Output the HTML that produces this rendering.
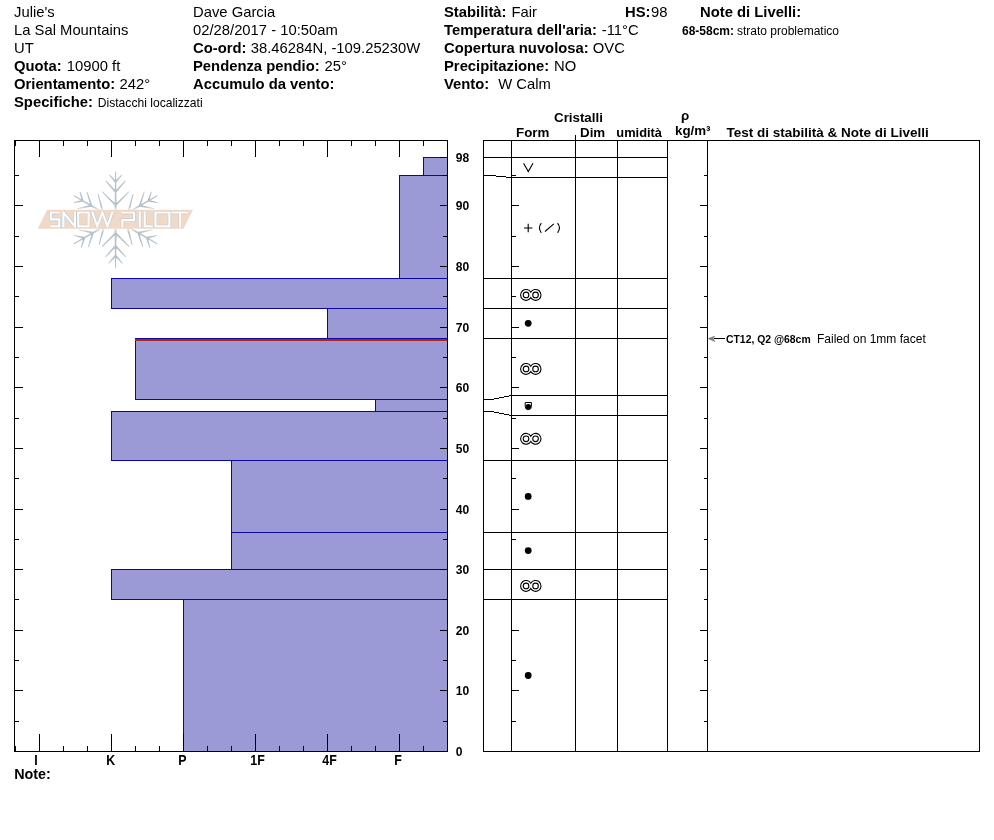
<!DOCTYPE html>
<html><head><meta charset="utf-8"><title>SnowPilot Pit</title>
<style>
html,body{margin:0;padding:0;background:#fff;}
body{width:994px;height:840px;overflow:hidden;font-family:"Liberation Sans",sans-serif;}
svg{display:block}
svg text{font-family:"Liberation Sans",sans-serif;fill:#000}
#root{will-change:transform}
.b{font-weight:bold}
.h{font-size:14.8px}
.s{font-size:12px}
.ln{stroke:#000;stroke-width:1;shape-rendering:crispEdges;fill:none}
</style></head><body>
<svg id="root" width="994" height="840" viewBox="0 0 994 840">
<rect x="0" y="0" width="994" height="840" fill="#fff"/>
<g id="header">
<text x="14" y="16.8" class="h">Julie&#39;s</text>
<text x="14" y="34.8" class="h">La Sal Mountains</text>
<text x="14" y="52.8" class="h">UT</text>
<text x="14" y="70.8" class="h b">Quota:</text>
<text x="66.8" y="70.8" class="h">10900 ft</text>
<text x="14" y="88.8" class="h b">Orientamento:</text>
<text x="119.6" y="88.8" class="h">242°</text>
<text x="14" y="106.8" class="h b">Specifiche:</text>
<text x="97.8" y="106.8" class="s" style="font-size:12.1px">Distacchi localizzati</text>
<text x="193" y="16.8" class="h">Dave Garcia</text>
<text x="193" y="34.8" class="h">02/28/2017 - 10:50am</text>
<text x="193" y="52.8" class="h b">Co-ord:</text>
<text x="250.8" y="52.8" class="h">38.46284N, -109.25230W</text>
<text x="193" y="70.8" class="h b">Pendenza pendio:</text>
<text x="324.6" y="70.8" class="h">25°</text>
<text x="193" y="88.8" class="h b">Accumulo da vento:</text>
<text x="444" y="16.8" class="h b">Stabilità:</text>
<text x="511.5" y="16.8" class="h">Fair</text>
<text x="625" y="16.8" class="h b">HS:</text>
<text x="651" y="16.8" class="h">98</text>
<text x="444" y="34.8" class="h b">Temperatura dell&#39;aria:</text>
<text x="601.8" y="34.8" class="h">-11°C</text>
<text x="444" y="52.8" class="h b">Copertura nuvolosa:</text>
<text x="592.8" y="52.8" class="h">OVC</text>
<text x="444" y="70.8" class="h b">Precipitazione:</text>
<text x="554" y="70.8" class="h">NO</text>
<text x="444" y="88.8" class="h b">Vento:</text>
<text x="498.2" y="88.8" class="h">W Calm</text>
<text x="700" y="16.8" class="h b">Note di Livelli:</text>
<text x="682" y="34.5" class="s b">68-58cm:</text>
<text x="737" y="34.5" class="s">strato problematico</text>
</g>
<g id="profile">
<g id="logo">
<path d="M116.75,219.70L116.10,171.70L115.60,171.20L115.10,171.70L114.45,219.70ZM116.34,182.47L122.09,175.26L122.06,174.63L121.42,174.66L114.86,181.13ZM116.34,181.13L109.78,174.66L109.14,174.63L109.11,175.26L114.86,182.47ZM116.34,192.47L125.50,181.47L125.47,180.84L124.83,180.87L114.86,191.13ZM116.34,191.13L106.37,180.87L105.73,180.84L105.70,181.47L114.86,192.47ZM116.31,205.81L129.21,192.12L129.21,191.49L128.58,191.49L114.89,204.39ZM116.31,204.39L102.62,191.49L101.99,191.49L101.99,192.12L114.89,205.81ZM116.17,218.70L74.28,195.27L73.60,195.45L73.78,196.13L115.02,220.70ZM83.73,200.44L80.36,191.86L79.80,191.57L79.51,192.14L81.83,201.06ZM82.57,199.77L73.69,202.22L73.34,202.76L73.87,203.10L82.99,201.73ZM92.39,205.44L87.45,192.01L86.88,191.72L86.59,192.29L90.49,206.06ZM91.23,204.77L77.36,208.28L77.01,208.82L77.54,209.16L91.65,206.73ZM103.92,212.14L98.52,194.12L97.97,193.81L97.66,194.36L101.99,212.66ZM102.70,211.43L84.68,216.83L84.36,217.38L84.91,217.70L103.21,213.37ZM115.02,218.70L73.78,243.27L73.60,243.95L74.28,244.13L116.17,220.70ZM84.63,236.72L74.64,235.16L74.10,235.51L74.45,236.04L84.22,238.68ZM83.47,237.39L80.87,247.17L81.16,247.73L81.73,247.44L85.37,238.01ZM93.20,231.77L78.61,229.23L78.08,229.58L78.43,230.11L92.79,233.73ZM92.05,232.44L88.00,246.69L88.28,247.25L88.85,246.96L93.95,233.06ZM104.25,225.43L85.95,221.10L85.40,221.42L85.72,221.97L103.74,227.37ZM103.03,226.14L98.69,244.44L99.01,244.99L99.56,244.68L104.96,226.66ZM114.45,219.70L115.10,267.70L115.60,268.20L116.10,267.70L116.75,219.70ZM114.86,255.03L108.51,262.90L108.54,263.54L109.18,263.51L116.34,256.37ZM114.86,256.37L122.02,263.51L122.66,263.54L122.69,262.90L116.34,255.03ZM114.86,245.13L105.36,256.50L105.40,257.13L106.03,257.10L116.34,246.47ZM114.86,246.47L125.17,257.10L125.80,257.13L125.84,256.50L116.34,245.13ZM114.89,232.39L101.99,246.08L101.99,246.71L102.62,246.71L116.31,233.81ZM114.89,233.81L128.58,246.71L129.21,246.71L129.21,246.08L116.31,232.39ZM115.02,220.70L156.92,244.13L157.60,243.95L157.42,243.27L116.17,218.70ZM145.83,238.01L149.47,247.44L150.04,247.73L150.33,247.17L147.73,237.39ZM146.98,238.68L156.75,236.04L157.10,235.51L156.56,235.16L146.57,236.72ZM137.25,233.06L142.35,246.96L142.92,247.25L143.20,246.69L139.15,232.44ZM138.41,233.73L152.77,230.11L153.12,229.58L152.59,229.23L138.00,231.77ZM126.24,226.66L131.64,244.68L132.19,244.99L132.51,244.44L128.17,226.14ZM127.46,227.37L145.48,221.97L145.80,221.42L145.25,221.10L126.95,225.43ZM116.17,220.70L157.42,196.13L157.60,195.45L156.92,195.27L115.02,218.70ZM148.21,201.73L157.33,203.10L157.86,202.76L157.51,202.22L148.63,199.77ZM149.37,201.06L151.69,192.14L151.40,191.57L150.84,191.86L147.47,200.44ZM139.55,206.73L153.66,209.16L154.19,208.82L153.84,208.28L139.97,204.77ZM140.71,206.06L144.61,192.29L144.32,191.72L143.75,192.01L138.81,205.44ZM127.99,213.37L146.29,217.70L146.84,217.38L146.52,216.83L128.50,211.43ZM129.21,212.66L133.54,194.36L133.23,193.81L132.68,194.12L127.28,212.14Z" fill="#b5c2cb" stroke="none"/>
<filter id="bl" x="-10%" y="-50%" width="120%" height="200%"><feGaussianBlur stdDeviation="1.1"/></filter>
<polygon points="46,208.2 195,208.2 184.4,230.3 35.5,230.3" fill="#fff" opacity="0.75" filter="url(#bl)"/>
<polygon points="47.1,209.8 193,209.8 183.4,228.7 37.7,228.7" fill="#f0d9c6"/>
<clipPath id="lc"><rect x="40" y="211.2" width="155" height="16.5"/></clipPath>
<g clip-path="url(#lc)"><path d="M59.800000000000004,212.5H50.9V219.45H59.2V226.4H50.3M63.4,227.5V212.5L74.9,226.4V211.4M78.3,212.5H88.6V226.4H78.3ZM92.1,211.4L97.225,226.4L102.35,212.5L107.475,226.4L112.6,211.4M121.30000000000001,212.5H134V220.04999999999998H122.4V227.5M139.75,211.4V227.5M144.7,211.4V226.4H152.8M155.5,212.5H169.4V226.4H155.5ZM171.3,212.5H188.2M180.2,212.5V227.5" stroke="#c2cbd3" stroke-width="3.4" fill="none" stroke-linejoin="miter" stroke-miterlimit="3"/>
<path d="M59.800000000000004,212.5H50.9V219.45H59.2V226.4H50.3M63.4,227.5V212.5L74.9,226.4V211.4M78.3,212.5H88.6V226.4H78.3ZM92.1,211.4L97.225,226.4L102.35,212.5L107.475,226.4L112.6,211.4M121.30000000000001,212.5H134V220.04999999999998H122.4V227.5M139.75,211.4V227.5M144.7,211.4V226.4H152.8M155.5,212.5H169.4V226.4H155.5ZM171.3,212.5H188.2M180.2,212.5V227.5" stroke="#fdfdfe" stroke-width="2.2" fill="none" stroke-linejoin="miter" stroke-miterlimit="3"/></g>
</g>
<rect x="423.5" y="157.5" width="24" height="18" fill="#9b99d6" stroke="#0a06a6" stroke-width="1" shape-rendering="crispEdges"/>
<rect x="399.5" y="175.5" width="48" height="103" fill="#9b99d6" stroke="#0a06a6" stroke-width="1" shape-rendering="crispEdges"/>
<rect x="111.5" y="278.5" width="336" height="30" fill="#9b99d6" stroke="#0a06a6" stroke-width="1" shape-rendering="crispEdges"/>
<rect x="327.5" y="308.5" width="120" height="30" fill="#9b99d6" stroke="#0a06a6" stroke-width="1" shape-rendering="crispEdges"/>
<rect x="135.5" y="338.5" width="312" height="61" fill="#9b99d6" stroke="#0a06a6" stroke-width="1" shape-rendering="crispEdges"/>
<rect x="375.5" y="399.5" width="72" height="12" fill="#9b99d6" stroke="#0a06a6" stroke-width="1" shape-rendering="crispEdges"/>
<rect x="111.5" y="411.5" width="336" height="49" fill="#9b99d6" stroke="#0a06a6" stroke-width="1" shape-rendering="crispEdges"/>
<rect x="231.5" y="460.5" width="216" height="72" fill="#9b99d6" stroke="#0a06a6" stroke-width="1" shape-rendering="crispEdges"/>
<rect x="231.5" y="532.5" width="216" height="37" fill="#9b99d6" stroke="#0a06a6" stroke-width="1" shape-rendering="crispEdges"/>
<rect x="111.5" y="569.5" width="336" height="30" fill="#9b99d6" stroke="#0a06a6" stroke-width="1" shape-rendering="crispEdges"/>
<rect x="183.5" y="599.5" width="264" height="152" fill="#9b99d6" stroke="#0a06a6" stroke-width="1" shape-rendering="crispEdges"/>
<rect x="135" y="339" width="312" height="2" fill="#b32418" shape-rendering="crispEdges"/>
<line class="ln" x1="14" y1="140.5" x2="448" y2="140.5"/>
<line class="ln" x1="14" y1="751.5" x2="448" y2="751.5"/>
<line class="ln" x1="14.5" y1="140" x2="14.5" y2="752"/>
<line class="ln" x1="447.5" y1="140" x2="447.5" y2="752"/>
<line class="ln" x1="15.5" y1="141" x2="15.5" y2="146"/>
<line class="ln" x1="15.5" y1="746" x2="15.5" y2="751"/>
<line class="ln" x1="39.5" y1="141" x2="39.5" y2="157"/>
<line class="ln" x1="39.5" y1="734" x2="39.5" y2="751"/>
<line class="ln" x1="63.5" y1="141" x2="63.5" y2="146"/>
<line class="ln" x1="63.5" y1="746" x2="63.5" y2="751"/>
<line class="ln" x1="87.5" y1="141" x2="87.5" y2="146"/>
<line class="ln" x1="87.5" y1="746" x2="87.5" y2="751"/>
<line class="ln" x1="111.5" y1="141" x2="111.5" y2="157"/>
<line class="ln" x1="111.5" y1="734" x2="111.5" y2="751"/>
<line class="ln" x1="135.5" y1="141" x2="135.5" y2="146"/>
<line class="ln" x1="135.5" y1="746" x2="135.5" y2="751"/>
<line class="ln" x1="159.5" y1="141" x2="159.5" y2="146"/>
<line class="ln" x1="159.5" y1="746" x2="159.5" y2="751"/>
<line class="ln" x1="183.5" y1="141" x2="183.5" y2="157"/>
<line class="ln" x1="183.5" y1="734" x2="183.5" y2="751"/>
<line class="ln" x1="207.5" y1="141" x2="207.5" y2="146"/>
<line class="ln" x1="207.5" y1="746" x2="207.5" y2="751"/>
<line class="ln" x1="231.5" y1="141" x2="231.5" y2="146"/>
<line class="ln" x1="231.5" y1="746" x2="231.5" y2="751"/>
<line class="ln" x1="255.5" y1="141" x2="255.5" y2="157"/>
<line class="ln" x1="255.5" y1="734" x2="255.5" y2="751"/>
<line class="ln" x1="279.5" y1="141" x2="279.5" y2="146"/>
<line class="ln" x1="279.5" y1="746" x2="279.5" y2="751"/>
<line class="ln" x1="303.5" y1="141" x2="303.5" y2="146"/>
<line class="ln" x1="303.5" y1="746" x2="303.5" y2="751"/>
<line class="ln" x1="327.5" y1="141" x2="327.5" y2="157"/>
<line class="ln" x1="327.5" y1="734" x2="327.5" y2="751"/>
<line class="ln" x1="351.5" y1="141" x2="351.5" y2="146"/>
<line class="ln" x1="351.5" y1="746" x2="351.5" y2="751"/>
<line class="ln" x1="375.5" y1="141" x2="375.5" y2="146"/>
<line class="ln" x1="375.5" y1="746" x2="375.5" y2="751"/>
<line class="ln" x1="399.5" y1="141" x2="399.5" y2="157"/>
<line class="ln" x1="399.5" y1="734" x2="399.5" y2="751"/>
<line class="ln" x1="423.5" y1="141" x2="423.5" y2="146"/>
<line class="ln" x1="423.5" y1="746" x2="423.5" y2="751"/>
<line class="ln" x1="447.5" y1="141" x2="447.5" y2="146"/>
<line class="ln" x1="447.5" y1="746" x2="447.5" y2="751"/>
<line class="ln" x1="15" y1="721.5" x2="19" y2="721.5"/>
<line class="ln" x1="443" y1="721.5" x2="447" y2="721.5"/>
<line class="ln" x1="15" y1="690.5" x2="23" y2="690.5"/>
<line class="ln" x1="440" y1="690.5" x2="447" y2="690.5"/>
<line class="ln" x1="15" y1="660.5" x2="19" y2="660.5"/>
<line class="ln" x1="443" y1="660.5" x2="447" y2="660.5"/>
<line class="ln" x1="15" y1="630.5" x2="23" y2="630.5"/>
<line class="ln" x1="440" y1="630.5" x2="447" y2="630.5"/>
<line class="ln" x1="15" y1="599.5" x2="19" y2="599.5"/>
<line class="ln" x1="443" y1="599.5" x2="447" y2="599.5"/>
<line class="ln" x1="15" y1="569.5" x2="23" y2="569.5"/>
<line class="ln" x1="440" y1="569.5" x2="447" y2="569.5"/>
<line class="ln" x1="15" y1="539.5" x2="19" y2="539.5"/>
<line class="ln" x1="443" y1="539.5" x2="447" y2="539.5"/>
<line class="ln" x1="15" y1="509.5" x2="23" y2="509.5"/>
<line class="ln" x1="440" y1="509.5" x2="447" y2="509.5"/>
<line class="ln" x1="15" y1="478.5" x2="19" y2="478.5"/>
<line class="ln" x1="443" y1="478.5" x2="447" y2="478.5"/>
<line class="ln" x1="15" y1="448.5" x2="23" y2="448.5"/>
<line class="ln" x1="440" y1="448.5" x2="447" y2="448.5"/>
<line class="ln" x1="15" y1="418.5" x2="19" y2="418.5"/>
<line class="ln" x1="443" y1="418.5" x2="447" y2="418.5"/>
<line class="ln" x1="15" y1="387.5" x2="23" y2="387.5"/>
<line class="ln" x1="440" y1="387.5" x2="447" y2="387.5"/>
<line class="ln" x1="15" y1="357.5" x2="19" y2="357.5"/>
<line class="ln" x1="443" y1="357.5" x2="447" y2="357.5"/>
<line class="ln" x1="15" y1="327.5" x2="23" y2="327.5"/>
<line class="ln" x1="440" y1="327.5" x2="447" y2="327.5"/>
<line class="ln" x1="15" y1="296.5" x2="19" y2="296.5"/>
<line class="ln" x1="443" y1="296.5" x2="447" y2="296.5"/>
<line class="ln" x1="15" y1="266.5" x2="23" y2="266.5"/>
<line class="ln" x1="440" y1="266.5" x2="447" y2="266.5"/>
<line class="ln" x1="15" y1="236.5" x2="19" y2="236.5"/>
<line class="ln" x1="443" y1="236.5" x2="447" y2="236.5"/>
<line class="ln" x1="15" y1="205.5" x2="23" y2="205.5"/>
<line class="ln" x1="440" y1="205.5" x2="447" y2="205.5"/>
<line class="ln" x1="15" y1="175.5" x2="19" y2="175.5"/>
<line class="ln" x1="443" y1="175.5" x2="447" y2="175.5"/>
<line class="ln" x1="440" y1="157.5" x2="447" y2="157.5"/>
<text x="0" y="0" class="b" style="font-size:13.33px" transform="translate(34.3,765) scale(0.93,1.06)">I</text>
<text x="0" y="0" class="b" style="font-size:13.33px" transform="translate(106.3,765) scale(0.93,1.06)">K</text>
<text x="0" y="0" class="b" style="font-size:13.33px" transform="translate(178.3,765) scale(0.93,1.06)">P</text>
<text x="0" y="0" class="b" style="font-size:13.33px" transform="translate(250.3,765) scale(0.93,1.06)">1F</text>
<text x="0" y="0" class="b" style="font-size:13.33px" transform="translate(322.3,765) scale(0.93,1.06)">4F</text>
<text x="0" y="0" class="b" style="font-size:13.33px" transform="translate(394.3,765) scale(0.93,1.06)">F</text>
<text x="14.2" y="779" class="b" style="font-size:14.35px">Note:</text>
<text x="455.7" y="755.9" class="b" style="font-size:13px" transform="translate(455.7,0) scale(0.93,1) translate(-455.7,0)">0</text>
<text x="455.7" y="694.9" class="b" style="font-size:13px" transform="translate(455.7,0) scale(0.93,1) translate(-455.7,0)">10</text>
<text x="455.7" y="634.9" class="b" style="font-size:13px" transform="translate(455.7,0) scale(0.93,1) translate(-455.7,0)">20</text>
<text x="455.7" y="573.9" class="b" style="font-size:13px" transform="translate(455.7,0) scale(0.93,1) translate(-455.7,0)">30</text>
<text x="455.7" y="513.9" class="b" style="font-size:13px" transform="translate(455.7,0) scale(0.93,1) translate(-455.7,0)">40</text>
<text x="455.7" y="452.9" class="b" style="font-size:13px" transform="translate(455.7,0) scale(0.93,1) translate(-455.7,0)">50</text>
<text x="455.7" y="391.9" class="b" style="font-size:13px" transform="translate(455.7,0) scale(0.93,1) translate(-455.7,0)">60</text>
<text x="455.7" y="331.9" class="b" style="font-size:13px" transform="translate(455.7,0) scale(0.93,1) translate(-455.7,0)">70</text>
<text x="455.7" y="270.9" class="b" style="font-size:13px" transform="translate(455.7,0) scale(0.93,1) translate(-455.7,0)">80</text>
<text x="455.7" y="209.9" class="b" style="font-size:13px" transform="translate(455.7,0) scale(0.93,1) translate(-455.7,0)">90</text>
<text x="455.7" y="161.9" class="b" style="font-size:13px" transform="translate(455.7,0) scale(0.93,1) translate(-455.7,0)">98</text>
</g>
<g id="table">
<text x="554" y="122" class="b" style="font-size:13.33px">Cristalli</text>
<text x="516" y="137" class="b" style="font-size:13.33px">Form</text>
<text x="580" y="137" class="b" style="font-size:13.33px">Dim</text>
<text x="616.3" y="137" class="b" style="font-size:13.33px" transform="translate(616.3,0) scale(0.965,1) translate(-616.3,0)">umidità</text>
<text x="681" y="120" class="b" style="font-size:13.33px">ρ</text>
<text x="675" y="135" class="b" style="font-size:13.33px">kg/m³</text>
<text x="726.5" y="137" class="b" style="font-size:13.5px">Test di stabilità &amp; Note di Livelli</text>
<line class="ln" x1="483" y1="140.5" x2="980" y2="140.5"/>
<line class="ln" x1="483" y1="751.5" x2="980" y2="751.5"/>
<line class="ln" x1="483.5" y1="140" x2="483.5" y2="752"/>
<line class="ln" x1="979.5" y1="140" x2="979.5" y2="752"/>
<line class="ln" x1="511.5" y1="140" x2="511.5" y2="752"/>
<line class="ln" x1="575.5" y1="140" x2="575.5" y2="752"/>
<line class="ln" x1="617.5" y1="140" x2="617.5" y2="752"/>
<line class="ln" x1="667.5" y1="140" x2="667.5" y2="752"/>
<line class="ln" x1="707.5" y1="140" x2="707.5" y2="752"/>
<line class="ln" x1="575.5" y1="135" x2="575.5" y2="140"/>
<line class="ln" x1="511" y1="157.5" x2="668" y2="157.5"/>
<line class="ln" x1="483" y1="157.5" x2="512" y2="157.5"/>
<line class="ln" x1="511" y1="177.5" x2="668" y2="177.5"/>
<line class="ln" x1="511" y1="278.5" x2="668" y2="278.5"/>
<line class="ln" x1="483" y1="278.5" x2="512" y2="278.5"/>
<line class="ln" x1="511" y1="308.5" x2="668" y2="308.5"/>
<line class="ln" x1="483" y1="308.5" x2="512" y2="308.5"/>
<line class="ln" x1="511" y1="338.5" x2="668" y2="338.5"/>
<line class="ln" x1="483" y1="338.5" x2="512" y2="338.5"/>
<line class="ln" x1="511" y1="395.5" x2="668" y2="395.5"/>
<line class="ln" x1="511" y1="415.5" x2="668" y2="415.5"/>
<line class="ln" x1="511" y1="460.5" x2="668" y2="460.5"/>
<line class="ln" x1="483" y1="460.5" x2="512" y2="460.5"/>
<line class="ln" x1="511" y1="532.5" x2="668" y2="532.5"/>
<line class="ln" x1="483" y1="532.5" x2="512" y2="532.5"/>
<line class="ln" x1="511" y1="569.5" x2="668" y2="569.5"/>
<line class="ln" x1="483" y1="569.5" x2="512" y2="569.5"/>
<line class="ln" x1="511" y1="599.5" x2="668" y2="599.5"/>
<line class="ln" x1="483" y1="599.5" x2="512" y2="599.5"/>
<rect x="484" y="175" width="12" height="1" fill="#000" shape-rendering="crispEdges"/>
<rect x="496" y="176" width="10" height="1" fill="#000" shape-rendering="crispEdges"/>
<rect x="506" y="177" width="6" height="1" fill="#000" shape-rendering="crispEdges"/>
<rect x="484" y="399" width="10" height="1" fill="#000" shape-rendering="crispEdges"/>
<rect x="494" y="398" width="5" height="1" fill="#000" shape-rendering="crispEdges"/>
<rect x="499" y="397" width="5" height="1" fill="#000" shape-rendering="crispEdges"/>
<rect x="504" y="396" width="5" height="1" fill="#000" shape-rendering="crispEdges"/>
<rect x="509" y="395" width="3" height="1" fill="#000" shape-rendering="crispEdges"/>
<rect x="484" y="411" width="10" height="1" fill="#000" shape-rendering="crispEdges"/>
<rect x="494" y="412" width="5" height="1" fill="#000" shape-rendering="crispEdges"/>
<rect x="499" y="413" width="5" height="1" fill="#000" shape-rendering="crispEdges"/>
<rect x="504" y="414" width="5" height="1" fill="#000" shape-rendering="crispEdges"/>
<rect x="509" y="415" width="3" height="1" fill="#000" shape-rendering="crispEdges"/>
<line class="ln" x1="512" y1="721.5" x2="516" y2="721.5"/>
<line class="ln" x1="704" y1="721.5" x2="707" y2="721.5"/>
<line class="ln" x1="512" y1="690.5" x2="519" y2="690.5"/>
<line class="ln" x1="700" y1="690.5" x2="707" y2="690.5"/>
<line class="ln" x1="512" y1="660.5" x2="516" y2="660.5"/>
<line class="ln" x1="704" y1="660.5" x2="707" y2="660.5"/>
<line class="ln" x1="512" y1="630.5" x2="519" y2="630.5"/>
<line class="ln" x1="700" y1="630.5" x2="707" y2="630.5"/>
<line class="ln" x1="512" y1="599.5" x2="516" y2="599.5"/>
<line class="ln" x1="704" y1="599.5" x2="707" y2="599.5"/>
<line class="ln" x1="512" y1="569.5" x2="519" y2="569.5"/>
<line class="ln" x1="700" y1="569.5" x2="707" y2="569.5"/>
<line class="ln" x1="512" y1="539.5" x2="516" y2="539.5"/>
<line class="ln" x1="704" y1="539.5" x2="707" y2="539.5"/>
<line class="ln" x1="512" y1="509.5" x2="519" y2="509.5"/>
<line class="ln" x1="700" y1="509.5" x2="707" y2="509.5"/>
<line class="ln" x1="512" y1="478.5" x2="516" y2="478.5"/>
<line class="ln" x1="704" y1="478.5" x2="707" y2="478.5"/>
<line class="ln" x1="512" y1="448.5" x2="519" y2="448.5"/>
<line class="ln" x1="700" y1="448.5" x2="707" y2="448.5"/>
<line class="ln" x1="512" y1="418.5" x2="516" y2="418.5"/>
<line class="ln" x1="704" y1="418.5" x2="707" y2="418.5"/>
<line class="ln" x1="512" y1="387.5" x2="519" y2="387.5"/>
<line class="ln" x1="700" y1="387.5" x2="707" y2="387.5"/>
<line class="ln" x1="512" y1="357.5" x2="516" y2="357.5"/>
<line class="ln" x1="704" y1="357.5" x2="707" y2="357.5"/>
<line class="ln" x1="512" y1="327.5" x2="519" y2="327.5"/>
<line class="ln" x1="700" y1="327.5" x2="707" y2="327.5"/>
<line class="ln" x1="512" y1="296.5" x2="516" y2="296.5"/>
<line class="ln" x1="704" y1="296.5" x2="707" y2="296.5"/>
<line class="ln" x1="512" y1="266.5" x2="519" y2="266.5"/>
<line class="ln" x1="700" y1="266.5" x2="707" y2="266.5"/>
<line class="ln" x1="512" y1="236.5" x2="516" y2="236.5"/>
<line class="ln" x1="704" y1="236.5" x2="707" y2="236.5"/>
<line class="ln" x1="512" y1="205.5" x2="519" y2="205.5"/>
<line class="ln" x1="700" y1="205.5" x2="707" y2="205.5"/>
<line class="ln" x1="512" y1="175.5" x2="516" y2="175.5"/>
<line class="ln" x1="704" y1="175.5" x2="707" y2="175.5"/>
<path d="M523.6,163.3L528.3,171.6L533,163.3" fill="none" stroke="#000" stroke-width="1.1"/>
<path d="M524,228H532.4M528.2,223.8V232.2" fill="none" stroke="#000" stroke-width="1.1"/>
<path d="M541.3,223.2Q537.6,228 541.3,232.8M557.6,223.2Q561.3,228 557.6,232.8M545,231.5L553.8,223.8" fill="none" stroke="#000" stroke-width="1.1"/>
<path d="M530.8,292.23A5.45 5.45 0 1 0 530.8,297.57A5.45 5.45 0 1 0 530.8,292.23Z" fill="#fff" stroke="#000" stroke-width="1.1"/>
<circle cx="526.05" cy="294.9" r="2.8" fill="none" stroke="#000" stroke-width="1.1"/>
<circle cx="535.55" cy="294.9" r="2.8" fill="none" stroke="#000" stroke-width="1.1"/>
<circle cx="528.2" cy="323.3" r="3.4" fill="#000"/>
<path d="M530.8,366.23A5.45 5.45 0 1 0 530.8,371.57A5.45 5.45 0 1 0 530.8,366.23Z" fill="#fff" stroke="#000" stroke-width="1.1"/>
<circle cx="526.05" cy="368.9" r="2.8" fill="none" stroke="#000" stroke-width="1.1"/>
<circle cx="535.55" cy="368.9" r="2.8" fill="none" stroke="#000" stroke-width="1.1"/>
<path d="M525.2,402.5H531.4V406.5A3.1 3.1 0 0 1 525.2,406.5Z" fill="#fff" stroke="#000" stroke-width="1"/>
<circle cx="528.3" cy="406.8" r="2.8" fill="#000"/>
<path d="M530.8,436.13A5.45 5.45 0 1 0 530.8,441.47A5.45 5.45 0 1 0 530.8,436.13Z" fill="#fff" stroke="#000" stroke-width="1.1"/>
<circle cx="526.05" cy="438.8" r="2.8" fill="none" stroke="#000" stroke-width="1.1"/>
<circle cx="535.55" cy="438.8" r="2.8" fill="none" stroke="#000" stroke-width="1.1"/>
<circle cx="528.2" cy="496.4" r="3.4" fill="#000"/>
<circle cx="528.2" cy="550.6" r="3.4" fill="#000"/>
<path d="M530.8,583.23A5.45 5.45 0 1 0 530.8,588.57A5.45 5.45 0 1 0 530.8,583.23Z" fill="#fff" stroke="#000" stroke-width="1.1"/>
<circle cx="526.05" cy="585.9" r="2.8" fill="none" stroke="#000" stroke-width="1.1"/>
<circle cx="535.55" cy="585.9" r="2.8" fill="none" stroke="#000" stroke-width="1.1"/>
<circle cx="528.2" cy="675.5" r="3.4" fill="#000"/>
<line class="ln" x1="714" y1="338.5" x2="725" y2="338.5"/>
<path d="M708.2,338.6L714.6,336.2L713.2,338.6L714.8,341.6Z" fill="#7a7a7a" stroke="#7a7a7a" stroke-width="0.6"/>
<text x="726" y="342.6" class="b" style="font-size:10.4px">CT12, Q2 @68cm</text>
<text x="817" y="342.6" class="s">Failed on 1mm facet</text>
</g>
</svg>
</body></html>
